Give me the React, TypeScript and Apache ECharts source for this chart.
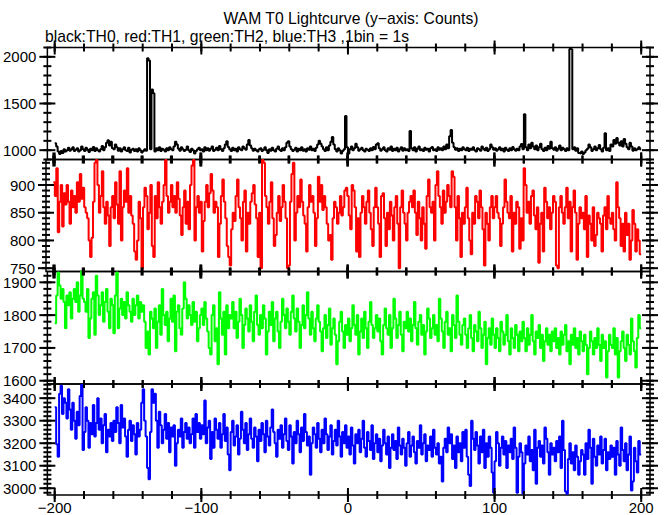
import React, { useEffect, useRef } from "react";
import * as echarts from "echarts";

// Bin start times: -200 s ... 199 s, 1 bin = 1 s
const T_START = -200;

// black: TH0
const TH0 = [
  1075, 1040, 985, 960, 990, 970, 1010, 985, 1000, 1025, 995, 1010, 1030, 990, 1005, 1020, 985, 1000, 1040, 1010,
  990, 1025, 1005, 980, 1015, 1000, 1035, 990, 1020, 1000, 985, 1010, 1045, 1000, 1030, 1080, 1105, 1050, 1090, 1020,
  1010, 1060, 1030, 995, 1020, 985, 1010, 1030, 1000, 990, 1025, 975, 1005, 1015, 990, 1010, 985, 1020, 1000, 975,
  990, 1010, 995, 1985, 1960, 1010, 1650, 1610, 985, 1020, 1000, 1030, 990, 1015, 1005, 985, 1020, 1000, 1030, 1010,
  1000, 1040, 1090, 1060, 1015, 995, 1030, 1010, 990, 1005, 1040, 1000, 980, 1015, 1000, 965, 990, 1010, 1025, 1000,
  1010, 985, 1030, 1000, 1020, 995, 1015, 1040, 990, 1005, 1025, 1000, 1045, 1010, 990, 1020, 1060, 1095, 1035, 1010,
  990, 1025, 1000, 1015, 985, 1030, 1010, 1000, 1040, 1020, 1005, 1060, 1110, 1050, 1020, 995, 1015, 1000, 985, 1010,
  1020, 990, 1005, 1030, 1000, 970, 1010, 995, 1025, 1000, 985, 1015, 1040, 1005, 990, 1020, 1000, 1030, 1080, 1095,
  1040, 1010, 990, 1005, 1025, 985, 1015, 1000, 1030, 995, 1010, 985, 1020, 1005, 1040, 1000, 1015, 990, 1025, 1060,
  1100, 1070, 1040, 1010, 990, 1030, 1000, 1050, 1090, 1140, 1060, 1010, 985, 1020, 1000, 965, 990, 1010, 1365, 1030,
  965, 1010, 1040, 1000, 1020, 1070, 1030, 995, 1010, 1025, 1000, 985, 1015, 1005, 990, 1020, 1000, 1035, 1010, 1060,
  1075, 1020, 995, 1010, 1030, 1000, 985, 1020, 1005, 1040, 990, 1015, 1000, 1025, 985, 1010, 1030, 995, 1020, 1000,
  1010, 990, 1205, 1020, 1000, 1030, 985, 1015, 1040, 1000, 1010, 990, 1025, 1005, 1015, 985, 1020, 1035, 1000, 1010,
  990, 1030, 1005, 1020, 1000, 1040, 1010, 1060, 1020, 1150, 1215, 1080, 1030, 1005, 1020, 990, 1015, 1000, 1030, 1010,
  1000, 1025, 990, 1015, 1005, 1030, 1000, 985, 1020, 1010, 995, 1040, 1015, 1000, 1025, 990, 1010, 1060, 1030, 1005,
  1020, 995, 1010, 1030, 1000, 1015, 985, 1025, 1005, 990, 1020, 1000, 1035, 1010, 995, 1015, 1000, 1040, 1065, 1010,
  1385, 1030, 1000, 1060, 1020, 1080, 1040, 1010, 1050, 1000, 1030, 1070, 1010, 990, 1025, 1000, 1045, 1015, 1090, 1020,
  1005, 1030, 995, 1015, 1050, 1000, 1025, 1010, 990, 1020, 1000, 2085, 2080, 1010, 1030, 995, 1020, 970, 965, 985,
  960, 975, 1000, 1015, 1060, 1030, 990, 1010, 1040, 1000, 1020, 1055, 1010, 985, 1025, 1180, 1000, 1020, 990, 1060,
  1040, 1110, 1070, 1130, 1080, 1050, 1095, 1040, 1120, 1070, 1030, 1010, 1080, 1040, 995, 1020, 1000, 1010, 1030, 1010,
];

// red: TH1
const TH1 = [
  905, 880, 930, 815, 870, 900, 825, 885, 865, 900, 870, 830, 890, 860, 880, 850, 905, 870, 920, 875,
  895, 860, 850, 840, 800, 770, 805, 870, 940, 945, 900, 850, 880, 925, 860, 830, 870, 845, 790, 860,
  880, 840, 905, 865, 830, 925, 800, 860, 890, 870, 930, 850, 880, 845, 830, 780, 765, 800, 870, 840,
  750, 860, 895, 880, 820, 850, 900, 790, 770, 880, 840, 905, 860, 830, 870, 900, 945, 880, 850, 870,
  900, 860, 880, 850, 905, 875, 845, 810, 860, 890, 830, 870, 820, 900, 935, 945, 800, 860, 880, 850,
  870, 780, 835, 870, 900, 860, 885, 920, 890, 850, 870, 860, 770, 830, 880, 910, 870, 840, 790, 770,
  755, 820, 850, 835, 880, 910, 860, 840, 800, 870, 890, 780, 850, 830, 870, 885, 900, 865, 840, 770,
  850, 750, 945, 940, 880, 860, 830, 870, 905, 840, 790, 810, 850, 880, 835, 860, 900, 870, 840, 750,
  755, 870, 920, 940, 800, 850, 880, 860, 910, 870, 845, 830, 780, 860, 900, 870, 880, 850, 790, 840,
  915, 870, 900, 855, 880, 860, 830, 800, 810, 765, 840, 870, 860, 830, 850, 880, 845, 860, 890, 895,
  880, 845, 820, 900, 890, 860, 780, 840, 770, 850, 880, 860, 830, 870, 890, 850, 820, 790, 860, 895,
  860, 830, 770, 880, 885, 840, 790, 850, 820, 870, 845, 800, 860, 880, 830, 750, 860, 890, 850, 830,
  800, 850, 870, 880, 860, 890, 850, 810, 870, 840, 800, 860, 830, 785, 880, 910, 860, 850, 870, 800,
  900, 925, 880, 860, 830, 890, 850, 870, 900, 880, 860, 925, 915, 860, 800, 880, 840, 770, 850, 830,
  860, 895, 840, 800, 775, 850, 830, 880, 870, 840, 890, 860, 820, 755, 850, 830, 800, 860, 880, 840,
  860, 880, 850, 840, 790, 830, 860, 910, 870, 850, 840, 880, 780, 850, 830, 870, 860, 785, 840, 800,
  930, 900, 850, 870, 830, 880, 890, 845, 820, 860, 760, 830, 850, 780, 895, 870, 840, 860, 820, 850,
  880, 870, 755, 750, 860, 880, 850, 830, 860, 895, 840, 870, 780, 860, 890, 850, 765, 830, 860, 840,
  850, 820, 880, 770, 845, 830, 800, 860, 790, 810, 850, 840, 830, 780, 845, 860, 820, 880, 840, 830,
  850, 820, 800, 905, 860, 840, 790, 830, 780, 850, 810, 830, 765, 800, 855, 830, 780, 820, 800, 775,
];

// green: TH2
const TH2 = [
  1775, 1860, 1930, 1890, 1850, 1880, 1840, 1760, 1860, 1830, 1870, 1790, 1850, 1880, 1840, 1900, 1810, 1860, 1935, 1850,
  1840, 1810, 1880, 1730, 1790, 1850, 1870, 1740, 1920, 1860, 1800, 1830, 1870, 1780, 1840, 1880, 1810, 1760, 1850, 1830,
  1745, 1860, 1930, 1760, 1820, 1850, 1800, 1840, 1790, 1870, 1830, 1810, 1780, 1850, 1800, 1830, 1860, 1790, 1840, 1810,
  1830, 1780, 1700, 1750, 1680, 1810, 1790, 1760, 1820, 1700, 1780, 1830, 1740, 1880, 1800, 1770, 1810, 1720, 1790, 1850,
  1780, 1860, 1690, 1810, 1830, 1760, 1740, 1820, 1900, 1850, 1790, 1830, 1800, 1770, 1840, 1780, 1810, 1720, 1760, 1800,
  1820, 1770, 1840, 1790, 1750, 1700, 1680, 1800, 1830, 1720, 1760, 1650, 1870, 1790, 1740, 1810, 1680, 1830, 1760, 1800,
  1790, 1840, 1760, 1810, 1730, 1780, 1850, 1800, 1700, 1770, 1820, 1790, 1750, 1830, 1780, 1720, 1810, 1860, 1770, 1740,
  1800, 1760, 1830, 1790, 1680, 1750, 1810, 1770, 1840, 1720, 1790, 1810, 1750, 1700, 1780, 1850, 1800, 1760, 1820, 1780,
  1740, 1810, 1860, 1790, 1750, 1820, 1780, 1700, 1770, 1830, 1760, 1800, 1870, 1790, 1740, 1810, 1760, 1720, 1790, 1830,
  1780, 1750, 1690, 1760, 1800, 1730, 1770, 1820, 1710, 1760, 1790, 1740, 1650, 1720, 1780, 1810, 1750, 1700, 1770, 1740,
  1790, 1720, 1760, 1830, 1770, 1740, 1800, 1680, 1750, 1790, 1730, 1810, 1760, 1700, 1780, 1840, 1770, 1730, 1760, 1800,
  1750, 1790, 1720, 1680, 1770, 1820, 1760, 1740, 1800, 1700, 1760, 1850, 1790, 1730, 1770, 1810, 1740, 1690, 1780, 1760,
  1810, 1750, 1790, 1720, 1770, 1840, 1760, 1710, 1780, 1800, 1740, 1770, 1680, 1750, 1820, 1790, 1730, 1760, 1800, 1740,
  1770, 1720, 1850, 1790, 1750, 1700, 1780, 1810, 1740, 1760, 1690, 1800, 1770, 1730, 1860, 1780, 1740, 1710, 1770, 1790,
  1740, 1700, 1760, 1800, 1730, 1690, 1770, 1750, 1720, 1810, 1760, 1700, 1740, 1780, 1650, 1730, 1760, 1710, 1790, 1740,
  1700, 1760, 1730, 1690, 1780, 1750, 1710, 1740, 1800, 1720, 1680, 1760, 1730, 1700, 1770, 1740, 1690, 1750, 1720, 1780,
  1730, 1690, 1760, 1710, 1740, 1800, 1720, 1680, 1750, 1730, 1770, 1700, 1740, 1660, 1720, 1760, 1710, 1740, 1690, 1750,
  1720, 1760, 1700, 1730, 1680, 1750, 1710, 1740, 1770, 1690, 1720, 1650, 1740, 1710, 1760, 1700, 1730, 1680, 1750, 1720,
  1690, 1740, 1710, 1620, 1700, 1750, 1720, 1680, 1730, 1700, 1760, 1710, 1660, 1740, 1700, 1720, 1610, 1690, 1740, 1710,
  1700, 1760, 1680, 1730, 1610, 1690, 1720, 1750, 1700, 1660, 1740, 1710, 1680, 1790, 1720, 1690, 1640, 1730, 1800, 1760,
];

// blue: TH3
const TH3 = [
  3360, 3195, 3140, 3420, 3455, 3330, 3400, 3380, 3310, 3440, 3350, 3260, 3380, 3300, 3220, 3340, 3280, 3410, 3460, 3170,
  3250, 3360, 3300, 3180, 3290, 3240, 3370, 3230, 3290, 3400, 3260, 3310, 3200, 3280, 3330, 3160, 3260, 3230, 3290, 3210,
  3300, 3250, 3360, 3290, 3200, 3370, 3270, 3310, 3230, 3140, 3260, 3300, 3210, 3280, 3240, 3150, 3290, 3230, 3260, 3380,
  3440, 3300, 3230, 3090, 3040, 3250, 3440, 3380, 3420, 3300, 3180, 3340, 3280, 3200, 3260, 3330, 3220, 3290, 3160, 3270,
  3230, 3280, 3100, 3200, 3260, 3230, 3310, 3180, 3250, 3290, 3220, 3270, 3200, 3240, 3310, 3180, 3330, 3250, 3290, 3220,
  3280, 3240, 3390, 3200, 3270, 3300, 3130, 3250, 3180, 3310, 3260, 3220, 3290, 3180, 3240, 3330, 3210, 3270, 3150, 3080,
  3250, 3300, 3190, 3230, 3280, 3150, 3220, 3340, 3260, 3200, 3290, 3170, 3240, 3310, 3220, 3180, 3270, 3230, 3120, 3260,
  3210, 3290, 3240, 3160, 3300, 3230, 3190, 3270, 3350, 3250, 3200, 3140, 3260, 3220, 3280, 3180, 3240, 3310, 3210, 3170,
  3280, 3230, 3110, 3250, 3200, 3300, 3240, 3160, 3270, 3210, 3330, 3250, 3190, 3230, 3060, 3200, 3270, 3240, 3180, 3290,
  3220, 3160, 3260, 3200, 3310, 3240, 3170, 3230, 3280, 3150, 3210, 3260, 3190, 3300, 3230, 3140, 3250, 3200, 3280, 3180,
  3230, 3150, 3270, 3190, 3110, 3240, 3200, 3260, 3160, 3220, 3300, 3180, 3140, 3250, 3210, 3170, 3280, 3130, 3200, 3240,
  3160, 3220, 3120, 3190, 3260, 3200, 3150, 3230, 3090, 3180, 3240, 3170, 3210, 3130, 3270, 3190, 3150, 3220, 3180, 3100,
  3200, 3250, 3140, 3190, 3230, 3160, 3110, 3210, 3180, 3280, 3150, 3200, 3240, 3120, 3190, 3170, 3230, 3140, 3260, 3180,
  3150, 3200, 3110, 3140, 3030, 3180, 3220, 3160, 3270, 3200, 3240, 3130, 3190, 3090, 3230, 3160, 3200, 3120, 3250, 3180,
  3260, 3140, 3060, 3010, 3300, 3220, 3170, 3250, 3190, 3110, 3230, 3160, 3260, 3090, 3200, 3140, 3230, 3180, 3070, 2980,
  3120, 3250, 3200, 3100, 3180, 3230, 3150, 3210, 3090, 3190, 3160, 3220, 3130, 3270, 3180, 2980, 3140, 3200, 3160, 2975,
  3110, 3190, 3150, 3230, 3120, 3170, 3080, 3260, 3020, 3180, 3210, 3140, 3190, 3110, 3270, 3220, 3160, 3060, 3200, 3150,
  3180, 3120, 3210, 3160, 3230, 3090, 3300, 3170, 2985, 2975, 3130, 3200, 3110, 3160, 3080, 3190, 3140, 3060, 3120, 3170,
  3150, 3060, 3200, 3130, 3260, 3180, 3020, 3220, 3140, 3100, 3190, 3150, 3230, 3110, 3170, 3220, 3080, 3160, 3130, 3190,
  3140, 3180, 3060, 3210, 3150, 3100, 3270, 3170, 3120, 3200, 3080, 3150, 3230, 2990, 3030, 3180, 3120, 3070, 3210, 3150,
];

const SERIES_COLORS = ["#000000", "#ff0000", "#00ff00", "#0000ff"];

// x axis
const X_MIN = -205;
const X_MAX = 206;
const X_MAJOR = [-200, -100, 0, 100, 200];
const X_MINOR_STEP = 20;

// y axes, one per panel
const Y_MIN = [900, 744, 1590, 2970];
const Y_MAX = [2100, 946, 1933, 3463];
const Y_MAJOR = [
  [1000, 1500, 2000],
  [750, 800, 850, 900],
  [1600, 1700, 1800, 1900],
  [3000, 3100, 3200, 3300, 3400],
];
const Y_MINOR_STEP = [100, 10, 20, 20];

const TITLE = "WAM T0 Lightcurve (y\u2212axis: Counts)";
const SUBTITLE = "black:TH0, red:TH1, green:TH2, blue:TH3 ,1bin = 1s";

const FONT = "Liberation Sans, Arial, Helvetica, sans-serif";

// tick lengths in px
const X_MAJOR_LEN = 7;
const X_MINOR_LEN = 4;
const Y_MAJOR_LEN = 8;
const Y_MINOR_LEN = 4;
const TICK_W = 2;

function ticksBetween(a: number, b: number, step: number) {
  const out: number[] = [];
  const start = Math.ceil(a / step) * step;
  for (let v = start; v <= b + 1e-9; v += step) out.push(v);
  return out;
}

const GRID_TOPS = [47.5, 159.5, 271.5, 384];
const GRID_BOTTOM_LAST = 496;

export default function App() {
  const ref = useRef<HTMLDivElement>(null);

  useEffect(() => {
    if (!ref.current) return;
    const chart = echarts.init(ref.current, undefined, { renderer: "svg" });
    const allData = [TH0, TH1, TH2, TH3];

    const grids = GRID_TOPS.map((top, g) => {
      const bottom = g < 3 ? GRID_TOPS[g + 1] : GRID_BOTTOM_LAST;
      return {
        left: 46,
        top,
        width: 604,
        height: bottom - top,
        show: true,
        borderColor: "#000",
        borderWidth: 1.5,
        backgroundColor: "transparent",
        containLabel: false,
      };
    });

    const xAxes: any[] = [];
    const yAxes: any[] = [];
    const series: any[] = [];
    const xMinor = ticksBetween(-200, 200, X_MINOR_STEP);

    for (let g = 0; g < 4; g++) {
      xAxes.push({
        type: "value",
        gridIndex: g,
        position: "bottom",
        min: X_MIN,
        max: X_MAX,
        axisLine: { show: false, onZero: false },
        splitLine: { show: false },
        axisTick: { show: false },
        axisLabel: {
          show: g === 3,
          customValues: X_MAJOR,
          color: "#000",
          fontSize: 15,
          lineHeight: 13,
          fontFamily: FONT,
          margin: 6,
          formatter: (v: number) => String(v).replace("-", "\u2212"),
        },
      });
      yAxes.push({
        type: "value",
        gridIndex: g,
        position: "left",
        min: Y_MIN[g],
        max: Y_MAX[g],
        axisLine: { show: false, onZero: false },
        splitLine: { show: false },
        axisTick: { show: false },
        axisLabel: {
          show: true,
          customValues: Y_MAJOR[g],
          color: "#000",
          fontSize: 15,
          lineHeight: 13,
          fontFamily: FONT,
          margin: 11,
          formatter: (v: number) => String(v),
        },
      });

      // Tick marks as small rect symbols placed at tick values on the frame
      const tickItems: any[] = [];
      const addX = (v: number, len: number) => {
        tickItems.push({ value: [v, Y_MIN[g]], symbolSize: [TICK_W, len * 2] });
        tickItems.push({ value: [v, Y_MAX[g]], symbolSize: [TICK_W, len * 2] });
      };
      const addY = (v: number, len: number) => {
        tickItems.push({ value: [X_MIN, v], symbolSize: [len * 2, TICK_W] });
        tickItems.push({ value: [X_MAX, v], symbolSize: [len * 2, TICK_W] });
      };
      xMinor.forEach((v) => addX(v, X_MINOR_LEN));
      X_MAJOR.forEach((v) => addX(v, X_MAJOR_LEN));
      ticksBetween(Y_MIN[g], Y_MAX[g], Y_MINOR_STEP[g]).forEach((v) => addY(v, Y_MINOR_LEN));
      Y_MAJOR[g].forEach((v) => addY(v, Y_MAJOR_LEN));

      series.push({
        type: "scatter",
        xAxisIndex: g,
        yAxisIndex: g,
        data: tickItems,
        symbol: "rect",
        clip: true,
        silent: true,
        z: 10,
        itemStyle: { color: "#000", opacity: 1 },
        emphasis: { disabled: true },
      });
    }

    allData.forEach((arr, g) => {
      const pts: number[][] = arr.map((v, i) => [T_START + i, v]);
      pts.push([T_START + arr.length, arr[arr.length - 1]]);
      series.push({
        type: "line",
        xAxisIndex: g,
        yAxisIndex: g,
        data: pts,
        step: "end",
        showSymbol: false,
        symbol: "none",
        clip: true,
        silent: true,
        z: 3,
        lineStyle: { color: SERIES_COLORS[g], width: 2 },
        itemStyle: { color: SERIES_COLORS[g] },
      });
    });

    chart.setOption({
      animation: false,
      backgroundColor: "#fff",
      grid: grids,
      xAxis: xAxes,
      yAxis: yAxes,
      series,
      graphic: [
        {
          type: "text",
          x: 351,
          y: 18,
          style: {
            text: TITLE,
            fill: "#000",
            fontSize: 15.7,
            fontFamily: FONT,
            align: "center",
            verticalAlign: "middle",
          },
        },
        {
          type: "text",
          x: 45,
          y: 36,
          style: {
            text: SUBTITLE,
            fill: "#000",
            fontSize: 15.7,
            fontFamily: FONT,
            align: "left",
            verticalAlign: "middle",
          },
        },
      ],
    });
    return () => chart.dispose();
  }, []);

  return (
    <div
      ref={ref}
      style={{ position: "fixed", left: 0, top: 0, width: 669, height: 515 }}
    />
  );
}
